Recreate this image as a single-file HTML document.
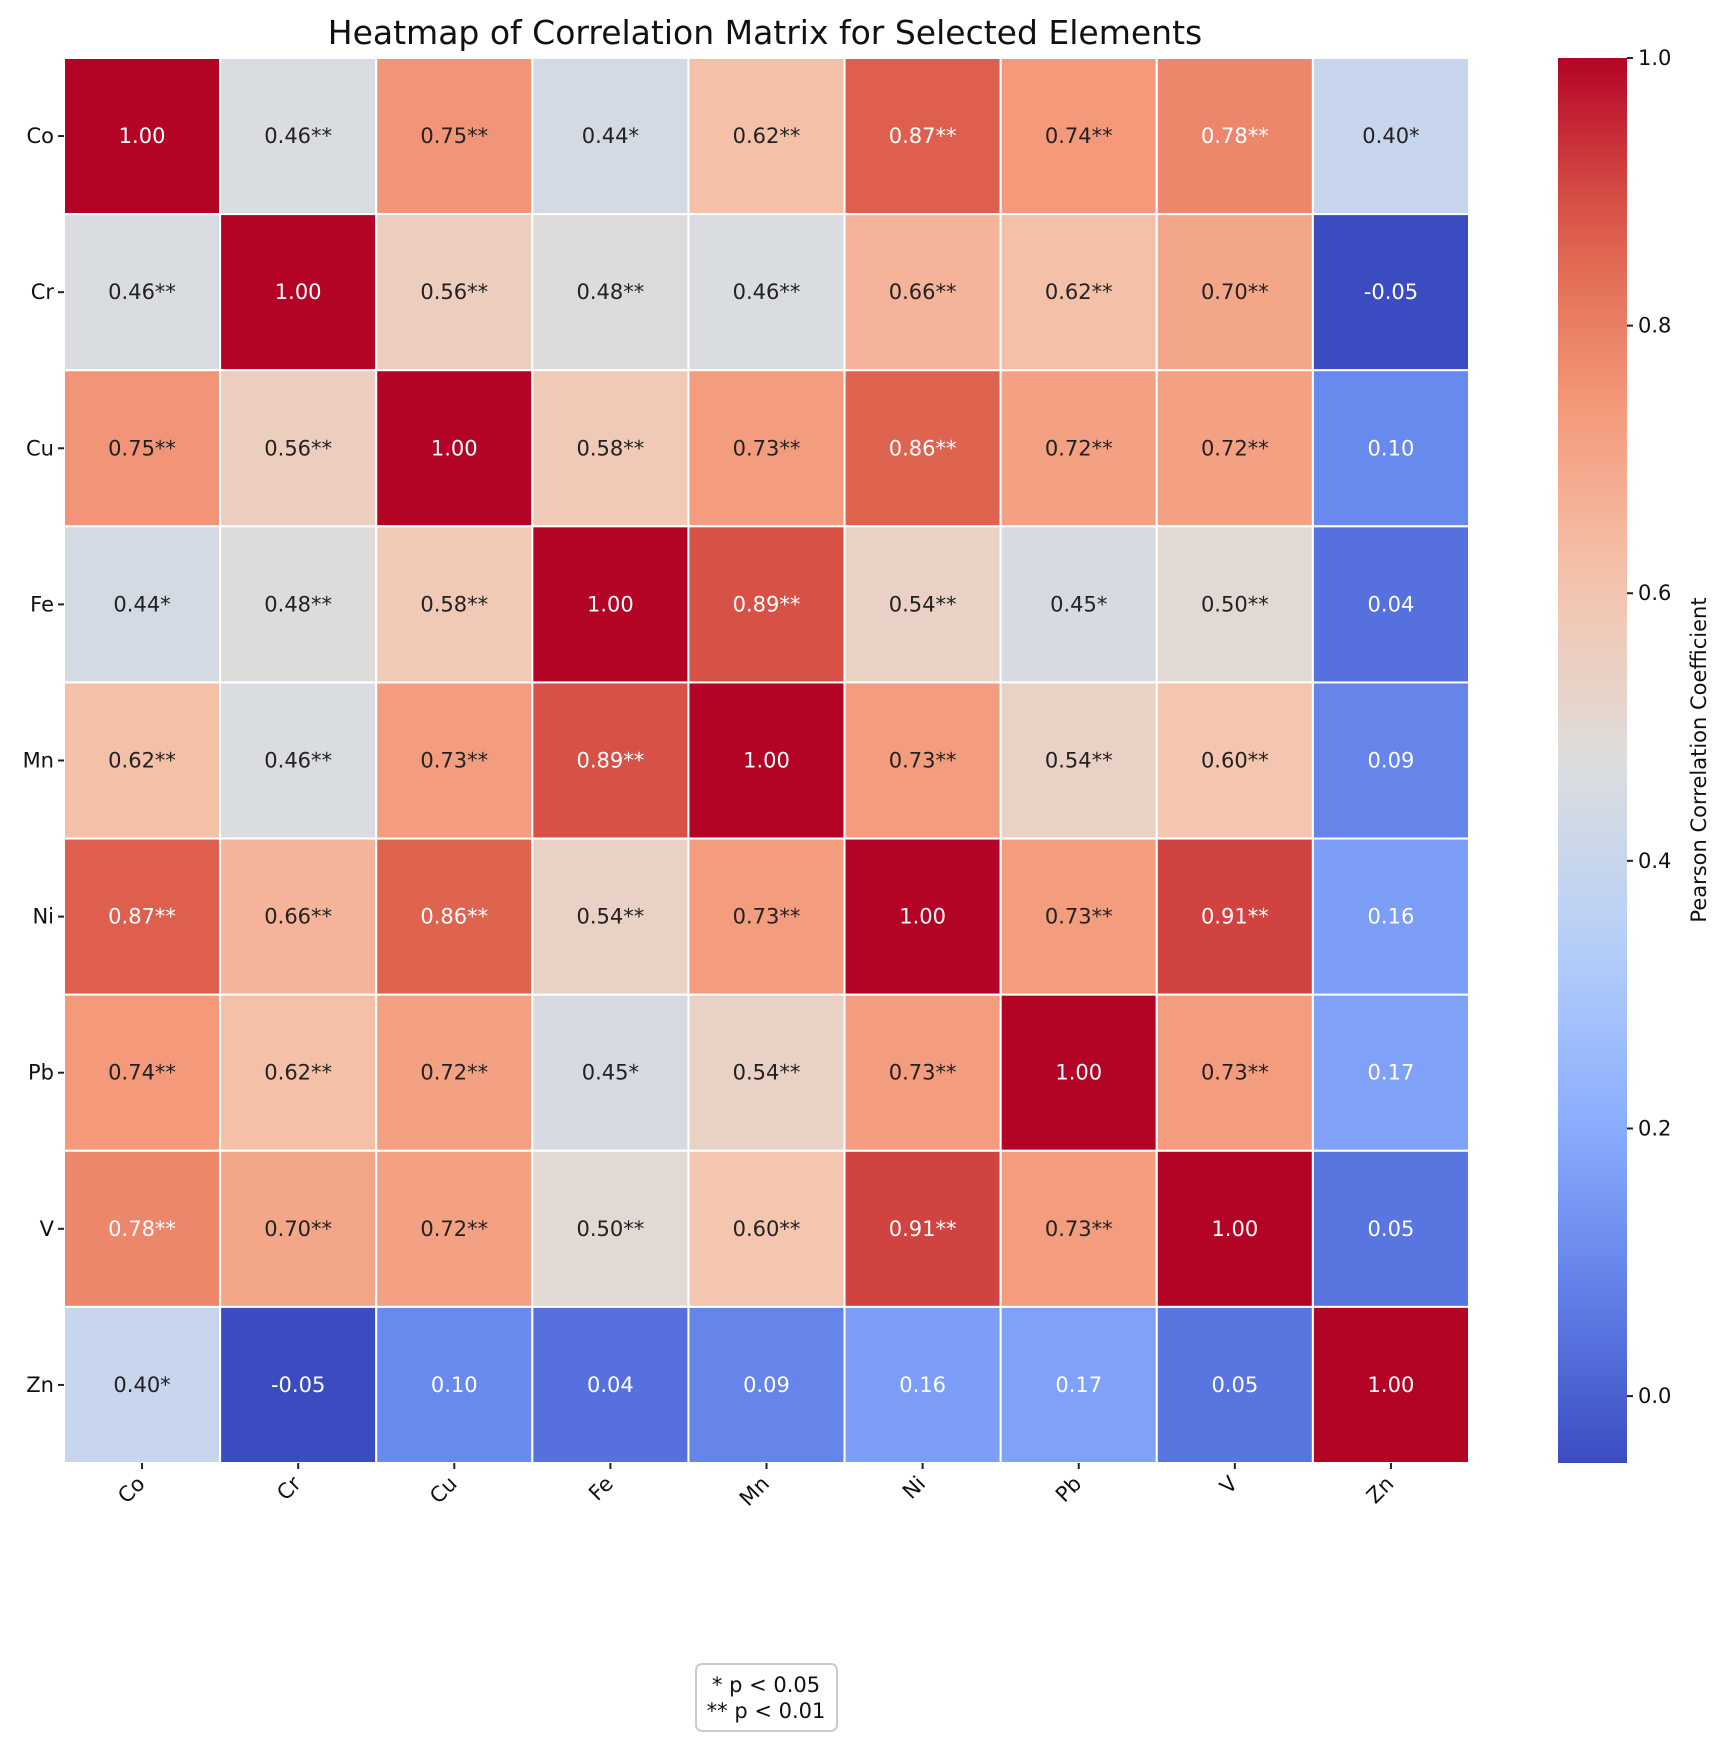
<!DOCTYPE html>
<html><head><meta charset="utf-8"><style>
body{margin:0;background:#fff;}
svg{display:block;font-family:"DejaVu Sans","Liberation Sans",sans-serif;}
</style></head><body>
<svg id="chart" width="1712" height="1738" viewBox="0 0 1712 1738">
<defs><linearGradient id="cbgrad" x1="0" y1="1" x2="0" y2="0"></linearGradient></defs>
<text x="765" y="44" text-anchor="middle" font-size="33" fill="#111">Heatmap of Correlation Matrix for Selected Elements</text>
<g id="cells"></g><g id="axes"></g><g id="cbar"></g>
<g>
<rect x="696" y="1664" width="141" height="67" rx="6" fill="#fff" stroke="#ccc" stroke-width="2"/>
<text x="766" y="1692" text-anchor="middle" font-size="21" fill="#111">* p &lt; 0.05</text>
<text x="766" y="1718" text-anchor="middle" font-size="21" fill="#111">** p &lt; 0.01</text>
</g>
</svg>
<script>
const labels=["Co","Cr","Cu","Fe","Mn","Ni","Pb","V","Zn"];
const rowCo=[1.00,0.46,0.75,0.44,0.62,0.87,0.74,0.78,0.40];
const rowCr=[0.46,1.00,0.56,0.48,0.46,0.66,0.62,0.70,-0.05];
const rowCu=[0.75,0.56,1.00,0.58,0.73,0.86,0.72,0.72,0.10];
const rowFe=[0.44,0.48,0.58,1.00,0.89,0.54,0.45,0.50,0.04];
const rowMn=[0.62,0.46,0.73,0.89,1.00,0.73,0.54,0.60,0.09];
const rowNi=[0.87,0.66,0.86,0.54,0.73,1.00,0.73,0.91,0.16];
const rowPb=[0.74,0.62,0.72,0.45,0.54,0.73,1.00,0.73,0.17];
const rowV=[0.78,0.70,0.72,0.50,0.60,0.91,0.73,1.00,0.05];
const rowZn=[0.40,-0.05,0.10,0.04,0.09,0.16,0.17,0.05,1.00];
const starsCo=["","**","**","*","**","**","**","**","*"];
const starsCr=["**","","**","**","**","**","**","**",""];
const starsCu=["**","**","","**","**","**","**","**",""];
const starsFe=["*","**","**","","**","**","*","**",""];
const starsMn=["**","**","**","**","","**","**","**",""];
const starsNi=["**","**","**","**","**","","**","**",""];
const starsPb=["**","**","**","*","**","**","","**",""];
const starsV=["**","**","**","**","**","**","**","",""];
const starsZn=["*","","","","","","","",""];
const cbTicks=[0.0,0.2,0.4,0.6,0.8,1.0];
const vmin=-0.05,vmax=1.0;
const matrix=[rowCo,rowCr,rowCu,rowFe,rowMn,rowNi,rowPb,rowV,rowZn];
const stars=[starsCo,starsCr,starsCu,starsFe,starsMn,starsNi,starsPb,starsV,starsZn];
const L=64,T=58,S=1405/9;
const NS="http://www.w3.org/2000/svg";
const cw=[[59,76,192],[98,130,234],[141,176,254],[184,208,249],[221,221,221],[245,196,173],[244,154,123],[222,96,77],[180,4,38]];
function cmap(v){let t=(v-vmin)/(vmax-vmin);t=Math.max(0,Math.min(1,t));const p=t*8,i=Math.min(7,Math.floor(p)),f=p-i;
return cw[i].map((c,k)=>Math.round(c+(cw[i+1][k]-c)*f));}
function mk(tag,attrs,parent){const e=document.createElementNS(NS,tag);for(const k in attrs)e.setAttribute(k,attrs[k]);parent.appendChild(e);return e;}
const xPos=i=>L+i*S, yPos=i=>T+i*S;
const cells=document.getElementById('cells'),axes=document.getElementById('axes'),cb=document.getElementById('cbar');
matrix.forEach((row,r)=>row.forEach((v,c)=>{
 const col=cmap(v);
 const rc=mk('rect',{x:xPos(c),y:yPos(r),width:S,height:S,fill:`rgb(${col})`,stroke:'#fff','stroke-width':2},cells);
 
 
 const white=(v>=0.77||v<0.3);
 const tx=mk('text',{x:xPos(c)+S/2,y:yPos(r)+S/2+7,'text-anchor':'middle','font-size':21,fill:white?'#fff':'#222'},cells);
 tx.textContent=v.toFixed(2)+stars[r][c];
 
 
}));
labels.forEach((lb,i)=>{
 const cy=yPos(i)+S/2;
 mk('line',{x1:L-6,x2:L,y1:cy,y2:cy,stroke:'#222','stroke-width':2},axes);
 const t=mk('text',{x:L-10,y:cy+7,'text-anchor':'end','font-size':21,fill:'#111'},axes);
 t.textContent=lb;
 
 
 const cx=xPos(i)+S/2,by=T+9*S;
 mk('line',{x1:cx,x2:cx,y1:by,y2:by+6,stroke:'#222','stroke-width':2},axes);
 const x=mk('text',{x:cx+4,y:by+22,'text-anchor':'end','font-size':21,fill:'#111',transform:`rotate(-45 ${cx+4} ${by+22})`},axes);
 x.textContent=lb;
 
 
});
const g=document.getElementById('cbgrad');
for(let k=0;k<=20;k++){const v=vmin+(vmax-vmin)*k/20;mk('stop',{offset:(k/20),'stop-color':`rgb(${cmap(v)})`},g);}
const CX=1558,CW=69,CT=58,CB=1463;
const cy=v=>CB-(v-vmin)/(vmax-vmin)*(CB-CT);
const bar=mk('rect',{x:CX,y:CT,width:CW,height:CB-CT,fill:'url(#cbgrad)'},cb);


cbTicks.forEach(v=>{
 const y=cy(v);
 mk('line',{x1:CX+CW,x2:CX+CW+6,y1:y,y2:y,stroke:'#222','stroke-width':2},cb);
 const t=mk('text',{x:CX+CW+11,y:y+7,'font-size':21,fill:'#111'},cb);
 t.textContent=v.toFixed(1);
 
 
});
const cl=mk('text',{x:1706,y:760,'text-anchor':'middle','font-size':21,fill:'#111',transform:'rotate(-90 1706 760)'},cb);
cl.textContent='Pearson Correlation Coefficient';


</script>
</body></html>
